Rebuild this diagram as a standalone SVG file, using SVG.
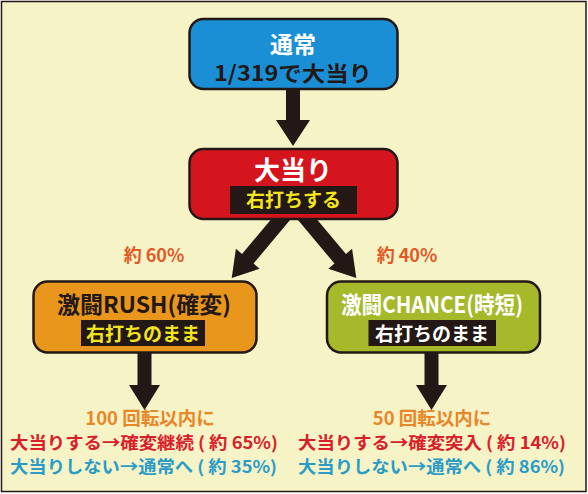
<svg xmlns="http://www.w3.org/2000/svg" width="588" height="494" viewBox="0 0 588 494">
<style>
.t{font-family:"Noto Sans CJK JP","Noto Sans",sans-serif;font-weight:bold;text-anchor:middle}
.l{font-family:"Noto Sans CJK JP","Noto Sans",sans-serif;font-weight:bold}
.box{stroke:#231815;stroke-width:2.5}
.arr{fill:#231815}
</style>
<rect x="1.5" y="1.5" width="584.5" height="490" fill="#f6f3c6" stroke="#231815" stroke-width="1.5"/>
<g id="connectors">
<path class="arr" d="M286,85 H300 V120 H310 L293,146 L276,120 H286 Z"/>
<path class="arr" transform="translate(287,212) rotate(40)" d="M-7.5,0 H7.5 V61 H15.5 L0,86 L-15.5,61 H-7.5 Z"/>
<path class="arr" transform="translate(301,212) rotate(-40)" d="M-7.5,0 H7.5 V61 H15.5 L0,86 L-15.5,61 H-7.5 Z"/>
<path class="arr" d="M137.5,350 H151.5 V385 H160 L144.5,410 L129,385 H137.5 Z"/>
<path class="arr" d="M424.5,350 H438.5 V385 H447 L431.5,410 L416,385 H424.5 Z"/>
</g>
<g id="normal">
<rect class="box" x="189.5" y="19" width="208" height="70" rx="14" fill="#1a8fd6"/>
<text class="t" x="293" y="53" font-size="23" fill="#ffffff">通常</text>
<text class="t" x="293" y="81" font-size="21" fill="#231815" textLength="158" lengthAdjust="spacingAndGlyphs">1/319で大当り</text>
</g>
<g id="jackpot">
<rect class="box" x="189.5" y="149" width="208" height="70" rx="14" fill="#d5151d"/>
<text class="t" x="293" y="180" font-size="26" fill="#ffffff">大当り</text>
<rect x="230" y="186" width="127" height="28" fill="#231815"/>
<text class="t" x="293.5" y="207" font-size="19" fill="#f2e51e">右打ちする</text>
</g>
<g id="rush">
<rect class="box" x="33.5" y="281.5" width="223" height="71" rx="14" fill="#e8961c"/>
<text class="t" x="144" y="313" font-size="23" fill="#231815">激闘RUSH(確変)</text>
<rect x="81" y="320" width="124" height="26" fill="#231815"/>
<text class="t" x="143" y="341" font-size="19" fill="#f2e51e">右打ちのまま</text>
</g>
<g id="chance">
<rect class="box" x="327" y="281.5" width="213" height="71" rx="14" fill="#a5b92a"/>
<text class="t" x="432" y="313" font-size="23" fill="#ffffff" textLength="182" lengthAdjust="spacingAndGlyphs">激闘CHANCE(時短)</text>
<rect x="368.5" y="320" width="127.5" height="26" fill="#231815"/>
<text class="t" x="432" y="341" font-size="19" fill="#ffffff">右打ちのまま</text>
</g>
<g id="labels">
<text class="t" x="154" y="262" font-size="18" fill="#e05a28">約 60%</text>
<text class="t" x="407" y="262" font-size="18" fill="#e05a28">約 40%</text>
<text class="t" x="150" y="425" font-size="18.5" fill="#e8862a">100 回転以内に</text>
<text class="l" x="10" y="449" font-size="17" fill="#d8202a" textLength="268" lengthAdjust="spacingAndGlyphs">大当りする→確変継続 ( 約 65%)</text>
<text class="l" x="10" y="473" font-size="17" fill="#2a9cc8" textLength="267" lengthAdjust="spacingAndGlyphs">大当りしない→通常へ ( 約 35%)</text>
<text class="t" x="432" y="425" font-size="18.5" fill="#e8862a">50 回転以内に</text>
<text class="l" x="298" y="449" font-size="17" fill="#d8202a" textLength="268" lengthAdjust="spacingAndGlyphs">大当りする→確変突入 ( 約 14%)</text>
<text class="l" x="298" y="473" font-size="17" fill="#2a9cc8" textLength="267" lengthAdjust="spacingAndGlyphs">大当りしない→通常へ ( 約 86%)</text>
</g>
</svg>
